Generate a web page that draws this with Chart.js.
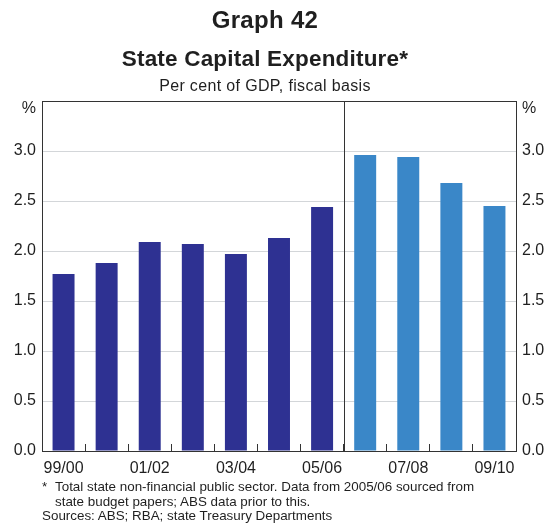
<!DOCTYPE html>
<html>
<head>
<meta charset="utf-8">
<script src="https://cdn.jsdelivr.net/npm/chart.js@4"></script>
<style>
  html, body { margin: 0; padding: 0; background: #fff; }
  body { width: 552px; height: 526px; position: relative; overflow: hidden; font-family: "Liberation Sans", Arial, sans-serif; color: #1f1f1f; }
  #wrap { position: absolute; left: 0; top: 0; width: 552px; height: 526px; }
  .t { position: absolute; left: 0; width: 530px; text-align: center; white-space: nowrap; line-height: 1; }
  .note { position: absolute; white-space: nowrap; font-size: 13.4px; line-height: 1; }
</style>
</head>
<body>
<div id="wrap"><canvas id="chart" width="552" height="526"></canvas></div>
<div class="t" style="top:8px;font-size:24px;font-weight:bold;letter-spacing:0.3px">Graph 42</div>
<div class="t" style="top:48px;font-size:22.5px;font-weight:bold;letter-spacing:0.2px">State Capital Expenditure*</div>
<div class="t" style="top:78px;font-size:16px;letter-spacing:0.35px">Per cent of GDP, fiscal basis</div>
<div class="note" style="left:42px;top:480px">*</div>
<div class="note" style="left:55px;top:480px">Total state non-financial public sector. Data from 2005/06 sourced from</div>
<div class="note" style="left:55px;top:495px">state budget papers; ABS data prior to this.</div>
<div class="note" style="left:42px;top:509px">Sources: ABS; RBA; state Treasury Departments</div>
<script>
const years = ['99/00', '00/01', '01/02', '02/03', '03/04', '04/05', '05/06', '06/07', '07/08', '08/09', '09/10'];
const absData = [1.77, 1.88, 2.09, 2.07, 1.97, 2.13, 2.44, null, null, null, null];
const budgetData = [null, null, null, null, null, null, null, 2.96, 2.94, 2.68, 2.45];
const DARK = '#2e3192';
const LIGHT = '#3a87c8';
const FONT = '"Liberation Sans", Arial, sans-serif';

// box round the plot, separator line and the % labels
const frame = {
  id: 'frame',
  afterDraw(chart) {
    const { ctx, chartArea: a, scales } = chart;
    ctx.save();
    ctx.strokeStyle = '#333';
    ctx.lineWidth = 1;
    ctx.strokeRect(Math.round(a.left) + 0.5, Math.round(a.top) + 0.5, Math.round(a.right - a.left), Math.round(a.bottom - a.top));
    const x = scales.x;
    const sep = Math.round((x.getPixelForValue(6) + x.getPixelForValue(7)) / 2) + 0.5;
    ctx.beginPath();
    ctx.moveTo(sep, a.top);
    ctx.lineTo(sep, a.bottom);
    ctx.stroke();
    ctx.fillStyle = '#1f1f1f';
    ctx.font = '16px ' + FONT;
    ctx.textBaseline = 'middle';
    ctx.textAlign = 'right';
    ctx.fillText('%', a.left - 6, a.top + 8);
    ctx.textAlign = 'left';
    ctx.fillText('%', a.right + 6, a.top + 8);
    ctx.restore();
  }
};

const yTicks = {
  color: '#1f1f1f', font: { size: 16, family: FONT }, padding: 6, stepSize: 0.5,
  callback: v => v > 3.01 ? '' : v.toFixed(1)
};

new Chart(document.getElementById('chart'), {
  type: 'bar',
  data: {
    labels: years,
    datasets: [
      { data: absData, backgroundColor: DARK, categoryPercentage: 1, barPercentage: 0.51, grouped: false },
      { data: budgetData, backgroundColor: LIGHT, categoryPercentage: 1, barPercentage: 0.51, grouped: false }
    ]
  },
  options: {
    responsive: false, animation: false,
    layout: { padding: { top: 101, left: 0, right: 0, bottom: 0 } },
    plugins: { legend: { display: false }, tooltip: { enabled: false }, title: { display: false } },
    scales: {
      x: {
        offset: true,
        grid: { offset: true, drawOnChartArea: false, drawTicks: true, tickLength: -7, color: '#333' },
        border: { display: true, color: '#222' },
        ticks: {
          autoSkip: false, maxRotation: 0, padding: 15, color: '#1f1f1f', font: { size: 16, family: FONT },
          callback: (v, i) => i % 2 === 0 ? years[i] : ''
        },
        afterFit: s => { s.height = 75; }
      },
      y: {
        position: 'left', min: 0, max: 3.5,
        grid: { color: '#d3d6d9', drawTicks: false },
        border: { display: true, color: '#333' },
        ticks: yTicks,
        afterFit: s => { s.width = 42; }
      },
      y2: {
        position: 'right', min: 0, max: 3.5,
        grid: { drawOnChartArea: false, drawTicks: false },
        border: { display: true, color: '#333' },
        ticks: yTicks,
        afterFit: s => { s.width = 36; }
      }
    }
  },
  plugins: [frame]
});
</script>
</body>
</html>
